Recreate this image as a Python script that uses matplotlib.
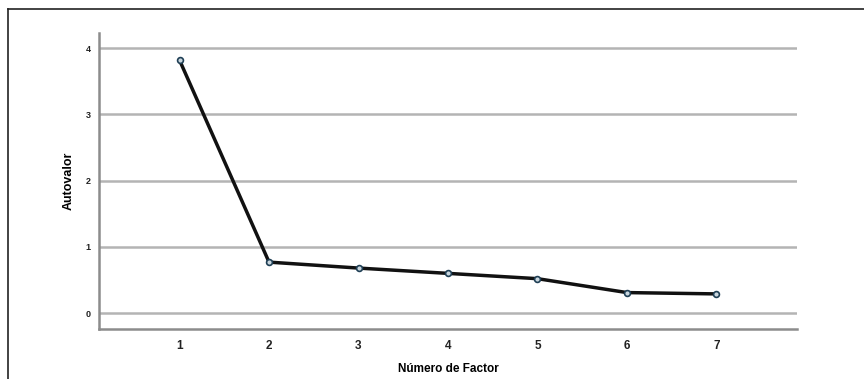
import matplotlib.pyplot as plt
from matplotlib.lines import Line2D

factors = [1, 2, 3, 4, 5, 6, 7]
eigenvalues = [3.82, 0.77, 0.68, 0.60, 0.52, 0.31, 0.29]
yticks = [0, 1, 2, 3, 4]

plt.rcParams['font.family'] = ['Liberation Sans', 'DejaVu Sans']

fig = plt.figure(figsize=(8.64, 3.79), dpi=100)
ax = fig.add_axes([99 / 864, 1 - 329 / 379, 698 / 864, 296 / 379])

for y in yticks:
    ax.axhline(y, color="#b4b4b4", lw=1.8, zorder=1)

ax.plot(factors, eigenvalues, color="#111111", lw=2.5, zorder=2,
        marker="o", ms=4.2, mfc="#c9d6de", mec="#1f3f55", mew=1.2)

ax.set_xlim(0.1, 7.9)
ax.set_ylim(-0.24, 4.23)
ax.set_xticks(factors)
ax.set_yticks(yticks)
ax.tick_params(length=0)
ax.tick_params(axis="x", labelsize=8.5, pad=8)
ax.tick_params(axis="y", labelsize=6.5, pad=6)
for lab in ax.get_xticklabels() + ax.get_yticklabels():
    lab.set_fontweight("bold")
    lab.set_color("#222222")

for s in ["top", "right"]:
    ax.spines[s].set_visible(False)
for s in ["left", "bottom"]:
    ax.spines[s].set_color("#8c8c8c")
    ax.spines[s].set_linewidth(1.8)

ax.set_xlabel("Número de Factor", fontsize=8.5, fontweight="bold", labelpad=8)
ax.set_ylabel("Autovalor", fontsize=9, fontweight="bold", labelpad=8,
              family=['Liberation Sans Narrow', 'Liberation Sans'])

# outer frame (top and left edges only are visible)
fig.add_artist(Line2D([8 / 864, 1.0], [1 - 9 / 379, 1 - 9 / 379],
                      transform=fig.transFigure, color="#222222", lw=1.2))
fig.add_artist(Line2D([8 / 864, 8 / 864], [0.0, 1 - 9 / 379],
                      transform=fig.transFigure, color="#222222", lw=1.2))

fig.savefig("out.png", dpi=100)
